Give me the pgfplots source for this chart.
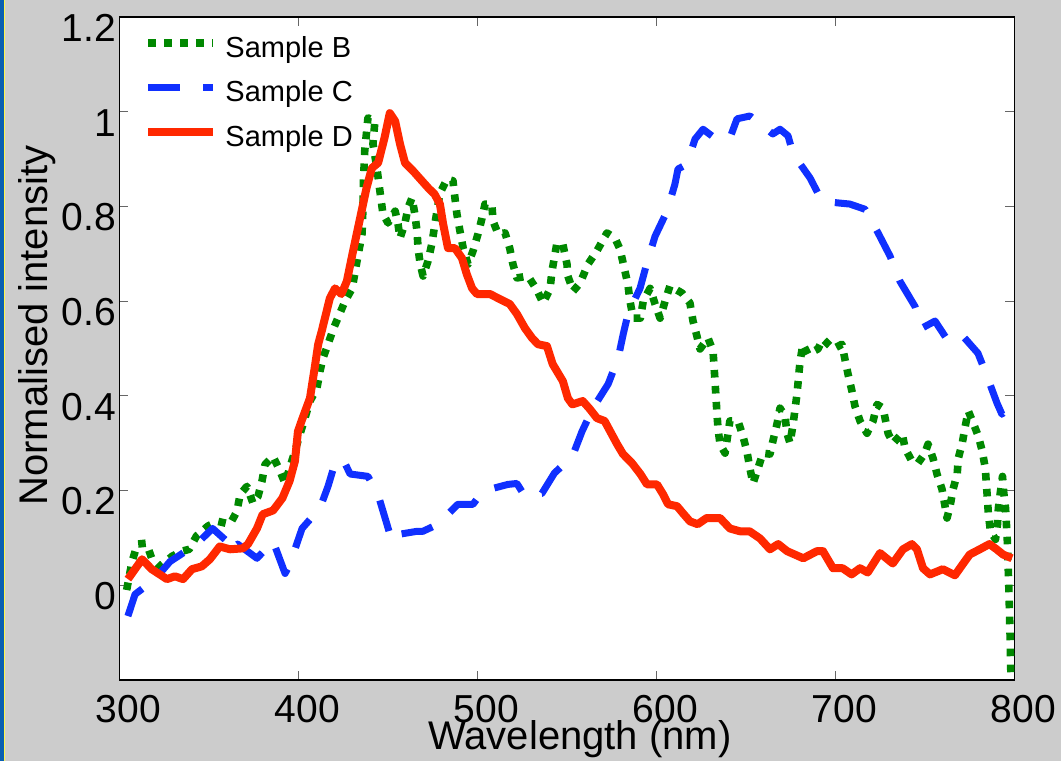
\documentclass[border=0pt]{standalone}
\usepackage{fontspec}
\setmainfont{Liberation Sans}
\usepackage{pgfplots}
\pgfplotsset{compat=1.18}
\definecolor{bggray}{RGB}{204,204,204}
\definecolor{winblue}{RGB}{10,95,176}
\definecolor{sB}{RGB}{0,136,0}
\definecolor{sC}{RGB}{16,48,255}
\definecolor{sD}{RGB}{255,40,0}
\begin{document}
\begin{tikzpicture}
\fill[bggray] (-59.75pt,-40.5pt) rectangle (470.75pt,340pt);
\fill[winblue] (-59.75pt,-40.5pt) rectangle (-57.75pt,340pt);
\fill[yellow!70] (-57.75pt,-40.5pt) rectangle (-57.25pt,340pt);
\begin{axis}[
  at={(0,0)}, anchor=south west,
  scale only axis, width=447.5pt, height=331.5pt,
  xmin=300, xmax=800, ymin=-0.2, ymax=1.2,
  xtick={300,400,500,600,700,800},
  ytick={0,0.2,0.4,0.6,0.8,1,1.2},
  tick align=inside,
  major tick length=4.5pt,
  major tick style={black!60, line width=0.5pt},
  axis line style={line width=0.6pt},
  axis background/.style={fill=white},
  /pgf/number format/assume math mode=true,
  tick label style={font=\fontsize{19.5}{21}\selectfont, inner sep=0pt},
  yticklabel style={anchor=east, xshift=-1.5pt, yshift=-5.5pt},
  xticklabel style={anchor=north, xshift=4.5pt, yshift=-7.5pt},
  label style={font=\fontsize{20}{22}\selectfont},
  xlabel={Wavelength (nm)},
  ylabel={Normalised intensity},
  xlabel style={at={(axis description cs:0.5145,-0.1054)}, anchor=base, inner sep=0pt},
  ylabel style={at={(axis description cs:-0.0805,0.5346)}, anchor=base, inner sep=0pt},
  legend style={draw=none, fill=none, at={(axis cs:313.7,1.16)}, anchor=north west,
    inner sep=0pt, row sep=8.75pt, column sep=4pt,
    font=\fontsize{14.5}{16}\selectfont,
    nodes={inner sep=0pt, text height=10.5pt, text depth=3pt, anchor=west}},
  legend cell align=left,
  legend image code/.code={\draw[#1] (0pt,3.5pt) -- (32.5pt,3.5pt);},
]
\addplot[sB, line width=3.8pt, dash pattern=on 3.8pt off 4.2pt, line join=round] coordinates {
(304,-0.010) (307,0.050) (310,0.087) (315,0.089) (318,0.057) (322.6,0.040)
(329.3,0.061) (334.9,0.072) (339,0.076) (343,0.104) (349.4,0.125) (355,0.135)
(361.7,0.129) (365.6,0.156) (367.4,0.192) (371.2,0.209) (374.6,0.173) (377.4,0.188)
(379.6,0.220) (381.3,0.255) (385.8,0.272) (389.7,0.241) (392.5,0.215) (395,0.247)
(398,0.283) (400.8,0.319) (403.6,0.353) (406.4,0.389) (410.3,0.416) (412,0.452)
(413.7,0.480) (416.5,0.509) (419.3,0.540) (426,0.600) (430,0.627) (432.7,0.685)
(435.5,0.742) (436,0.797) (436.3,0.854) (437,0.917) (438.8,0.987) (442.7,0.980)
(441.6,0.932) (443.8,0.881) (445.5,0.832) (447.2,0.784) (450,0.765) (454,0.790)
(455.6,0.763) (456.7,0.733) (459.5,0.765) (461.2,0.797) (463.4,0.818) (465,0.784)
(466.2,0.748) (466.8,0.712) (468,0.678) (469.6,0.653) (472.4,0.685) (474.6,0.723)
(476.2,0.763) (479,0.828) (483,0.858) (486.3,0.854) (487.4,0.818) (488.5,0.784)
(490.2,0.748) (492,0.712) (494.7,0.678) (497.5,0.706) (500.3,0.742) (502.5,0.775)
(504.2,0.805) (508,0.805) (508.7,0.769) (511.5,0.742) (515.4,0.744) (518,0.712)
(519.8,0.678) (522,0.649) (528.2,0.653) (533,0.625) (536.6,0.596) (540.5,0.625)
(541.6,0.663) (544.4,0.723) (547.7,0.720) (550,0.678) (550.5,0.653) (553.4,0.621)
(557.3,0.638) (561.7,0.678) (566.7,0.706) (572.3,0.744) (576.8,0.733) (579.6,0.710)
(582.4,0.663) (584,0.636) (585.2,0.600) (587,0.564) (591,0.564) (592.6,0.600)
(596.4,0.627) (599.2,0.594) (602,0.564) (604.8,0.600) (607.5,0.632) (614.3,0.617)
(618.7,0.596) (620.4,0.558) (622.6,0.526) (624.3,0.499) (628.8,0.522) (631.6,0.494)
(632.7,0.431) (633.8,0.361) (634.4,0.330) (635.5,0.298) (638.3,0.279) (641,0.347)
(645.5,0.347) (648.3,0.315) (650.5,0.283) (652.2,0.247) (653.9,0.215) (656.7,0.247)
(659.5,0.279) (663.4,0.277) (665,0.304) (667.3,0.340) (669,0.374) (671.8,0.357)
(672.9,0.321) (674.6,0.300) (676.3,0.340) (677.4,0.372) (678.5,0.404) (680.2,0.473)
(681.8,0.509) (684.6,0.488) (690.2,0.499) (693,0.520) (698.6,0.499) (703.6,0.509)
(705.3,0.477) (707,0.446) (709.2,0.410) (710.9,0.378) (713.7,0.347) (717.6,0.321)
(721,0.347) (723.2,0.382) (726.6,0.374) (727.7,0.353) (729.4,0.321) (732.2,0.300)
(737.2,0.321) (738.9,0.289) (742.7,0.262) (746.1,0.258) (750,0.279) (751.7,0.298)
(754.5,0.268) (756.7,0.235) (759.5,0.203) (761.2,0.167) (762.3,0.142) (764,0.167)
(765.7,0.203) (768,0.235) (768.6,0.268) (770.8,0.300) (772.5,0.336) (774.2,0.368)
(777,0.342) (779.8,0.315) (782,0.283) (783.7,0.247) (784.3,0.213) (784.9,0.182)
(785.4,0.150) (786.6,0.114) (789.4,0.097) (790.5,0.129) (791,0.163) (792.2,0.199)
(793.3,0.230) (793.9,0.199) (795,0.163) (795.5,0.129) (796,0.093) (796.8,0.000)
(797.5,-0.100) (798,-0.190)
};
\addlegendentry{Sample B}
\addplot[sC, line width=3.5pt, dash pattern=on 16pt off 11.5pt, line join=round] coordinates {
(304.7,-0.065) (308.7,-0.019) (319.8,0.013) (328.2,0.050) (343,0.087) (352,0.120)
(360,0.093) (361.7,0.072) (366,0.087) (376.8,0.057) (385.8,0.093) (392.5,0.025)
(395.2,0.044) (399,0.087) (402,0.120) (412,0.163) (416.5,0.209) (420.4,0.258)
(424.9,0.266) (428.8,0.235) (438.8,0.230) (444.4,0.192) (449.4,0.129) (452.2,0.093)
(456.7,0.108) (466.2,0.114) (469.5,0.114) (478,0.129) (489,0.171) (497.5,0.171)
(503,0.199) (517,0.213) (522,0.215) (526.5,0.188) (536,0.194) (543,0.237)
(553,0.272) (558.4,0.325) (564.5,0.374) (573,0.425) (578.6,0.480) (581.4,0.530)
(584.2,0.575) (590.8,0.627) (594.6,0.680) (599.2,0.737) (605.9,0.790) (610.3,0.847)
(612,0.879) (617,0.889) (621.5,0.942) (626,0.963) (632.7,0.944) (641,0.944)
(645,0.985) (652.2,0.991) (660.6,0.966) (665,0.953) (669,0.963) (673.5,0.949)
(676.3,0.911) (685.8,0.860) (692.5,0.811) (702.5,0.807) (708,0.805) (716.5,0.794)
(723.8,0.744) (730.5,0.695) (736,0.642) (744.4,0.589) (748.3,0.543) (755.6,0.558)
(762.9,0.516) (771.2,0.526) (779.6,0.490) (784.6,0.442) (790.2,0.385) (793,0.361)
(796.4,0.382) (797.5,0.390)
};
\addlegendentry{Sample C}
\addplot[sD, line width=4pt, line join=round] coordinates {
(304.7,0.013) (312.6,0.055) (318,0.034) (326.5,0.013) (331,0.019) (335.5,0.013)
(340.5,0.034) (346,0.040) (350.5,0.055) (356,0.082) (361.7,0.076) (369,0.078)
(371.8,0.087) (376.8,0.120) (380,0.150) (385.8,0.158) (391,0.184) (395,0.220)
(398,0.262) (399.7,0.325) (402,0.350) (406.4,0.395) (409,0.458) (411,0.509)
(413,0.537) (417.5,0.606) (420.4,0.627) (424,0.615) (427,0.642) (430.5,0.706)
(434.4,0.775) (438,0.839) (441,0.881) (444.5,0.892) (448,0.944) (451,0.997)
(454,0.980) (456.7,0.932) (459.5,0.892) (464,0.875) (468,0.858) (472.5,0.839)
(476,0.826) (479,0.805) (480.8,0.763) (483.5,0.712) (487.4,0.712) (491.3,0.691)
(494,0.657) (497,0.627) (499.7,0.615) (507,0.615) (512.6,0.604) (518,0.594)
(522,0.573) (526.5,0.543) (530.5,0.522) (533.8,0.509) (538.8,0.505) (542,0.467)
(547.7,0.431) (550.5,0.395) (553,0.382) (558.8,0.389) (562.8,0.372) (566.7,0.353)
(571,0.347) (575,0.319) (578,0.298) (581.3,0.277) (586.3,0.258) (591,0.235)
(594.7,0.213) (600.3,0.213) (603.7,0.192) (606.5,0.171) (611.5,0.167) (614.8,0.152)
(618.7,0.135) (623,0.129) (628,0.142) (635.5,0.142) (641,0.120) (646.6,0.114)
(652,0.114) (657.8,0.099) (663.4,0.076) (668,0.087) (673,0.072) (682,0.057)
(689.6,0.072) (693,0.072) (698.6,0.036) (704,0.036) (709,0.023) (713.7,0.036)
(718,0.027) (724.9,0.068) (732,0.046) (737.7,0.076) (742.7,0.087) (745.5,0.076)
(748.9,0.036) (752.8,0.023) (760,0.034) (766.7,0.021) (771,0.044) (775,0.065)
(780.6,0.076) (786,0.087) (790,0.076) (793.6,0.065) (798.6,0.057)
};
\addlegendentry{Sample D}
\end{axis}
\pgfresetboundingbox
\path (-59.75pt,-40.5pt) rectangle (470.75pt,340pt);
\end{tikzpicture}
\end{document}
